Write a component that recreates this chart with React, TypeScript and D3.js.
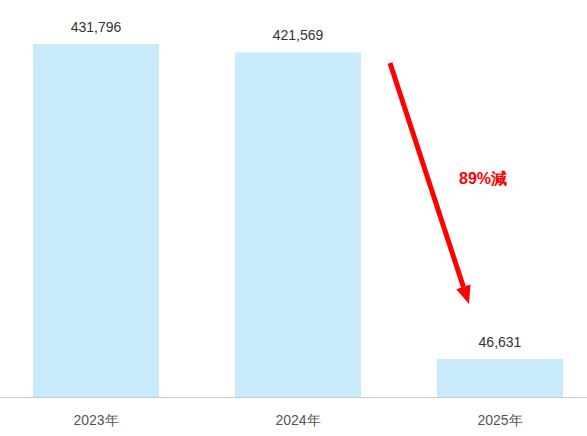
import React from "react";
import * as d3 from "d3";

const categories = ["2023年", "2024年", "2025年"];
const values = [431796, 421569, 46631];
const changeLabel = "89%減";

const W = 587;
const H = 436;
const baseY = 397;

export default function App() {
  const x = d3
    .scaleBand<string>()
    .domain(categories)
    .range([-5, 601])
    .paddingInner(0.376)
    .paddingOuter(0.188);
  const y = d3.scaleLinear().domain([0, 431796]).range([baseY, 44]);
  const fmt = d3.format(",");

  const ax0 = 390, ay0 = 63, ax1 = 469, ay1 = 304;
  const ang = Math.atan2(ay1 - ay0, ax1 - ax0);
  const headLen = 18, headW = 7.5;
  const bx = ax1 - headLen * Math.cos(ang);
  const by = ay1 - headLen * Math.sin(ang);
  const px = -Math.sin(ang), py = Math.cos(ang);
  const head = `M${ax1},${ay1}L${bx + px * headW},${by + py * headW}L${bx - px * headW},${by - py * headW}Z`;

  return (
    <div style={{ position: "absolute", left: 0, top: 0 }}>
      <svg width={W} height={H} style={{ display: "block", fontFamily: "'Liberation Sans', Arial, sans-serif" }}>
        <rect x={0} y={0} width={W} height={H} fill="#ffffff" />
        {categories.map((c, i) => (
          <g key={c}>
            <rect x={x(c)} y={y(values[i])} width={x.bandwidth()} height={baseY - y(values[i])} fill="#c8ecfb" />
            <text x={(x(c) as number) + x.bandwidth() / 2} y={y(values[i]) - 12} textAnchor="middle" fontSize={14} fill="#333">
              {fmt(values[i])}
            </text>
            <text x={(x(c) as number) + x.bandwidth() / 2} y={425} textAnchor="middle" fontSize={14} fill="#555">
              {c}
            </text>
          </g>
        ))}
        <line x1={0} x2={W} y1={baseY + 0.5} y2={baseY + 0.5} stroke="#cccccc" strokeWidth={1} />
        <line x1={ax0} y1={ay0} x2={bx} y2={by} stroke="#ff0000" strokeWidth={5} />
        <path d={head} fill="#ff0000" />
        <text x={483} y={184} textAnchor="middle" fontSize={16} fontWeight="bold" fill="#ff0000">
          {changeLabel}
        </text>
      </svg>
    </div>
  );
}
